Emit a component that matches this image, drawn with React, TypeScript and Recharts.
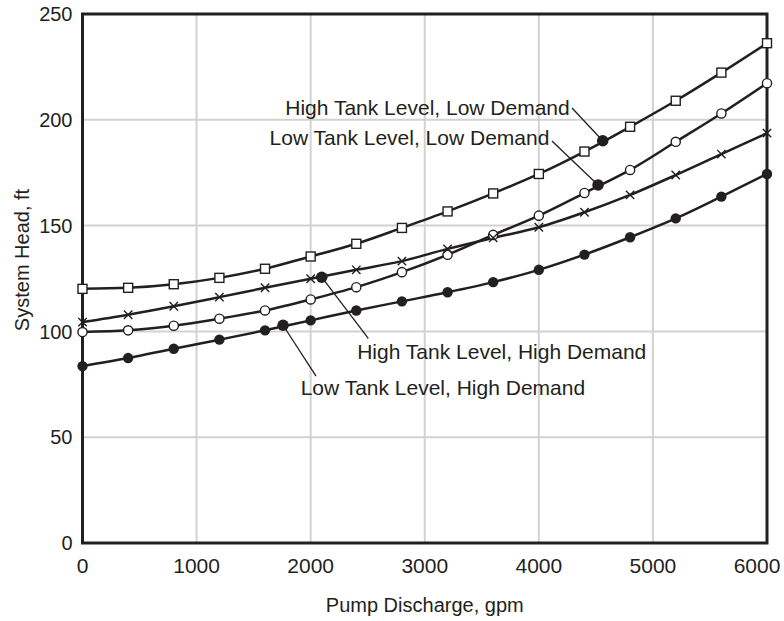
import { CartesianGrid, Label, Line, LineChart, ReferenceArea, ReferenceDot, ReferenceLine, XAxis, YAxis } from 'recharts'

const discharge = [0, 400, 800, 1200, 1600, 2000, 2400, 2800, 3200, 3600, 4000, 4400, 4800, 5200, 5600, 6000]

const highTankLowDemand = [120.1, 120.6, 122.3, 125.3, 129.6, 135.4, 141.4, 148.9, 156.7, 165.2, 174.4, 185, 196.7, 209, 222.3, 236.2]
const lowTankLowDemand = [99.7, 100.5, 102.7, 106, 109.9, 115.1, 120.9, 128, 136.2, 145.6, 154.7, 165.4, 176.3, 189.6, 203, 217.3]
const highTankHighDemand = [104.4, 107.9, 111.9, 116.2, 120.6, 124.9, 129.1, 133.2, 139, 144.2, 149.2, 156.3, 164.5, 173.9, 183.8, 193.7]
const lowTankHighDemand = [83.6, 87.4, 91.8, 96.1, 100.5, 105.2, 109.9, 114.2, 118.5, 123.3, 129.1, 136.3, 144.5, 153.4, 163.7, 174.4]

const xTicks = [0, 1000, 2000, 3000, 4000, 5000, 6000]
const yTicks = [0, 50, 100, 150, 200, 250]

// callouts: label text, label centre, leader start, dot on the curve
const callouts = [
    { text: 'High Tank Level, Low Demand', tx: 3024, ty: 205.8, lx: 4291, ly: 205.6, px: 4560, py: 190.1 },
    { text: 'Low Tank Level, Low Demand', tx: 2866, ty: 191.4, lx: 4115, ly: 190, px: 4519, py: 169.2 },
    { text: 'High Tank Level, High Demand', tx: 3675, ty: 90.3, lx: 2505, ly: 96.7, px: 2097, py: 125.6 },
    { text: 'Low Tank Level, High Demand', tx: 3159, ty: 73.3, lx: 2047, ly: 78.9, px: 1758, py: 102.9 },
]

const ink = '#231f20'

const data = discharge.map((q, i) => ({
    q,
    htld: highTankLowDemand[i],
    ltld: lowTankLowDemand[i],
    hthd: highTankHighDemand[i],
    lthd: lowTankHighDemand[i],
}))

const SquareDot = (props: any) => {
    const { cx, cy, index } = props
    return <rect key={`sq-${index}`} x={cx - 4.5} y={cy - 4.5} width={9} height={9} fill="#fff" stroke={ink} strokeWidth={1.4} />
}

const CircleDot = (props: any) => {
    const { cx, cy, index } = props
    return <circle key={`ci-${index}`} cx={cx} cy={cy} r={4.6} fill="#fff" stroke={ink} strokeWidth={1.4} />
}

const CrossDot = (props: any) => {
    const { cx, cy, index } = props
    const s = 4.2
    return (
        <path key={`x-${index}`} d={`M${cx - s},${cy - s}L${cx + s},${cy + s}M${cx - s},${cy + s}L${cx + s},${cy - s}`}
            stroke={ink} strokeWidth={1.4} fill="none" />
    )
}

const FilledDot = (props: any) => {
    const { cx, cy, index } = props
    return <circle key={`fd-${index}`} cx={cx} cy={cy} r={5.2} fill={ink} stroke="none" />
}

// last x label is pulled in so it stays on the page, like in the original
const XTick = (props: any) => {
    const { x, y, payload } = props
    const shift = payload.value === 6000 ? -10 : 0
    return (
        <text x={x + shift} y={y} dy="0.71em" textAnchor="middle" fill={ink} fontSize={21}>{payload.value}</text>
    )
}

export default function App() {
    // pinned to the page corner so the chart can use the full 784x621 window
    return (
        <div style={{ fontFamily: '"Liberation Sans", Arial, sans-serif', position: 'absolute', left: 0, top: 0, width: 784, height: 621 }}>
            <LineChart width={784} height={621} data={data} margin={{ top: 14, right: 17, bottom: 0, left: 0 }}>
                <CartesianGrid stroke="#d2d2d2" strokeWidth={2} />
                <XAxis dataKey="q" type="number" domain={[0, 6000]} ticks={xTicks} height={78}
                    axisLine={false} tickLine={false} tickMargin={9}
                    tick={XTick}>
                    <Label value="Pump Discharge, gpm" position="insideBottom" offset={9} fill={ink} fontSize={20} />
                </XAxis>
                <YAxis type="number" domain={[0, 250]} ticks={yTicks} width={82.5}
                    axisLine={false} tickLine={false} tickMargin={4}
                    tick={{ fill: ink, fontSize: 20 }}
                    label={{
                        content: () => (
                            <text x={22} y={260} transform="rotate(-90, 22, 260)" textAnchor="middle"
                                dominantBaseline="central" fill={ink} fontSize={20}>System Head, ft</text>
                        ),
                    }} />
                <ReferenceArea x1={0} x2={6000} y1={0} y2={250} fill="none" stroke={ink} strokeWidth={3} fillOpacity={0} />
                <Line type="monotone" dataKey="htld" stroke={ink} strokeWidth={2.5} dot={SquareDot} isAnimationActive={false} />
                <Line type="monotone" dataKey="ltld" stroke={ink} strokeWidth={2.5} dot={CircleDot} isAnimationActive={false} />
                <Line type="monotone" dataKey="hthd" stroke={ink} strokeWidth={2.5} dot={CrossDot} isAnimationActive={false} />
                <Line type="monotone" dataKey="lthd" stroke={ink} strokeWidth={2.5} dot={FilledDot} isAnimationActive={false} />
                {callouts.map((c) => (
                    <ReferenceLine key={`l-${c.text}`} segment={[{ x: c.lx, y: c.ly }, { x: c.px, y: c.py }]}
                        stroke={ink} strokeWidth={1.3} />
                ))}
                {callouts.map((c) => (
                    <ReferenceDot key={`d-${c.text}`} x={c.px} y={c.py} r={5.8} fill={ink} stroke="none" />
                ))}
                {callouts.map((c) => (
                    <ReferenceDot key={`t-${c.text}`} x={c.tx} y={c.ty} r={0} fill="none" stroke="none">
                        <Label value={c.text} position="center" fill={ink} fontSize={21} />
                    </ReferenceDot>
                ))}
            </LineChart>
        </div>
    )
}
